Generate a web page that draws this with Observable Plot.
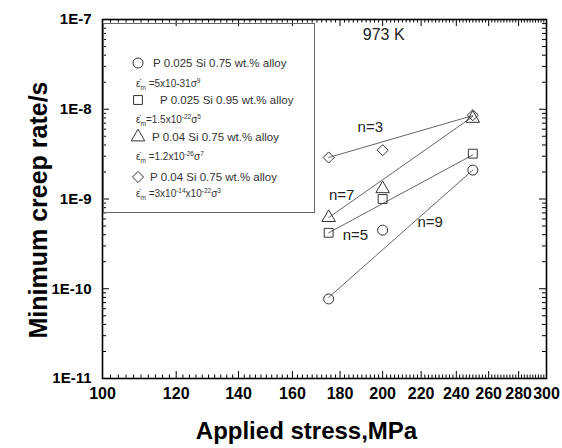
<!DOCTYPE html>
<html><head><meta charset="utf-8">
<script src="https://cdn.jsdelivr.net/npm/d3@7"></script>
<script src="https://cdn.jsdelivr.net/npm/@observablehq/plot@0.6"></script>
<style>
body{margin:0;background:#fff;}
#wrap{position:relative;width:562px;height:448px;font-family:"Liberation Sans",Arial,sans-serif;}
#wrap svg.overlay{position:absolute;left:0;top:0;pointer-events:none;}
</style></head><body><div id="wrap"></div>
<script>
// ---- data ----
const seriesNames = ["P0.025Si0.75", "P0.025Si0.95", "P0.04Si0.75a", "P0.04Si0.75b"];
const stress = [175, 200, 250];
const rateCircle   = [7.7e-11, 4.5e-10, 2.1e-9];
const rateSquare   = [4.2e-10, 1.0e-9, 3.2e-9];
const rateTriangle = [6.2e-10, 1.3e-9, 7.9e-9];
const rateDiamond  = [2.9e-9, 3.5e-9, 8.6e-9];
const fitStress = [175, 250];
const fitCircle   = [8.0e-11, 2.1e-9];   // n=9
const fitSquare   = [4.2e-10, 3.1e-9];   // n=5
const fitTriangle = [6.2e-10, 8.3e-9];   // n=7
const fitDiamond  = [2.9e-9, 8.5e-9];    // n=3
const nLabels = ["n=3", "n=7", "n=5", "n=9"];
const nLabelStress = [194, 180.7, 187, 225];
const nLabelRate = [6.26e-9, 1.09e-9, 3.92e-10, 5.47e-10];
const tempLabel = ["973 K"]; const tempStress = [200.5]; const tempRate = [6.8e-8];
const xTicks = [100, 120, 140, 160, 180, 200, 220, 240, 260, 280, 300];
const yTicks = [1e-11, 1e-10, 1e-9, 1e-8, 1e-7];
const yTickLabels = ["1E-11", "1E-10", "1E-9", "1E-8", "1E-7"];
const xTitle = "Applied stress,MPa";
const yTitle = "Minimum creep rate/s";
const legendLabels = ["P 0.025 Si 0.75 wt.% alloy", "P 0.025 Si 0.95 wt.% alloy", "P 0.04 Si 0.75 wt.% alloy", "P 0.04 Si 0.75 wt.% alloy"];
const legendFormulas = [
  [["ε̇",""],["m","sub"],[" =5x10-31σ",""],["9","sup"]],
  [["ε̇",""],["m","sub"],["=1.5x10",""],["-22","sup"],["σ",""],["5","sup"]],
  [["ε̇",""],["m","sub"],[" =1.2x10",""],["-26","sup"],["σ",""],["7","sup"]],
  [["ε̇",""],["m","sub"],[" =3x10",""],["-14","sup"],["x10",""],["-22","sup"],["σ",""],["3","sup"]]
];
const symbolNames = ["circle", "square", "triangle", "diamond2"];

// ---- tables ----
const rates = [rateCircle, rateSquare, rateTriangle, rateDiamond];
const fitsArr = [fitCircle, fitSquare, fitTriangle, fitDiamond];
const points = seriesNames.flatMap((s, i) => stress.map((x, j) => ({series: s, stress: x, rate: rates[i][j]})));
const fits = seriesNames.flatMap((s, i) => fitStress.map((x, j) => ({series: s, stress: x, rate: fitsArr[i][j]})));
const nAnno = nLabels.map((t, i) => ({t, x: nLabelStress[i], y: nLabelRate[i]}));
const tAnno = tempLabel.map((t, i) => ({t, x: tempStress[i], y: tempRate[i]}));
const xMinor = d3.range(102, 300, 2).filter(v => v % 20 !== 0);
const yMinor = [];
for (let e = -11; e < -7; e++) for (let m = 2; m <= 9; m++) yMinor.push(+(m + "e" + e));

// ---- layout ----
const W = 562, H = 448, mL = 102, mR = 16, mT = 19, mB = 70;
const pw = W - mL - mR, ph = H - mT - mB;
const font = '"Liberation Sans", Arial, sans-serif';

const chart = Plot.plot({
  width: W, height: H,
  marginLeft: mL, marginRight: mR, marginTop: mT, marginBottom: mB,
  style: {fontFamily: font, background: "white", color: "black", overflow: "visible"},
  x: {type: "log", domain: [100, 300]},
  y: {type: "log", domain: [1e-11, 1e-7]},
  symbol: {domain: seriesNames, range: symbolNames},
  marks: [
    Plot.axisX(xTicks, {tickSize: 0, tickPadding: 9, fontSize: 16, fontWeight: "bold", tickFormat: d => String(d), label: null}),
    Plot.axisY(yTicks, {tickSize: 0, tickPadding: 11, fontSize: 15, fontWeight: "bold", tickFormat: d => yTickLabels[yTicks.indexOf(d)], label: null}),
    Plot.ruleX(xTicks, {x: d => d, insetTop: ph - 7, stroke: "black"}),
    Plot.ruleX(xMinor, {x: d => d, insetTop: ph - 3.5, stroke: "black"}),
    Plot.ruleX(xTicks, {x: d => d, insetBottom: ph - 7, stroke: "black"}),
    Plot.ruleX(xMinor, {x: d => d, insetBottom: ph - 3.5, stroke: "black"}),
    Plot.ruleY(yTicks, {y: d => d, insetRight: pw - 7, stroke: "black"}),
    Plot.ruleY(yMinor, {y: d => d, insetRight: pw - 4, stroke: "black"}),
    Plot.ruleY(yTicks, {y: d => d, insetLeft: pw - 7, stroke: "black"}),
    Plot.ruleY(yMinor, {y: d => d, insetLeft: pw - 4, stroke: "black"}),
    Plot.line(fits, {x: "stress", y: "rate", z: "series", stroke: "#555", strokeWidth: 0.9}),
    Plot.dot(points, {x: "stress", y: "rate", symbol: "series", r: 5, stroke: "#333", strokeWidth: 1, fill: "none"}),
    Plot.text(nAnno, {x: "x", y: "y", text: "t", fontSize: 15, fill: "#222"}),
    Plot.text(tAnno, {x: "x", y: "y", text: "t", fontSize: 16, fill: "#222"}),
    Plot.frame({stroke: "black", strokeWidth: 1.6}),
    Plot.text([xTitle], {text: d => d, frameAnchor: "bottom", textAnchor: "middle", lineAnchor: "middle", dy: 53, dx: -18, fontSize: 24, fontWeight: "bold", fill: "black"}),
    Plot.text([yTitle], {text: d => d, frameAnchor: "left", textAnchor: "middle", lineAnchor: "middle", rotate: -90, dx: -64, dy: 11, fontSize: 25, fontWeight: "bold", fill: "black"})
  ]
});
const wrap = document.getElementById("wrap");
wrap.appendChild(chart);

// ---- legend overlay ----
const ov = d3.select(wrap).append("svg").attr("class", "overlay").attr("width", W).attr("height", H)
  .style("font-family", font);
ov.append("rect").attr("x", 103.5).attr("y", 23.5).attr("width", 211).attr("height", 189)
  .attr("fill", "none").attr("stroke", "#666").attr("stroke-width", 1);
const d3sym = {circle: d3.symbolCircle, square: d3.symbolSquare, triangle: d3.symbolTriangle, diamond2: d3.symbolDiamond2};
const symY = [63, 100, 137, 177], textX = [153, 160, 152, 150], textBase = [67, 104, 141, 181], formBase = [87, 123, 160, 197];
symbolNames.forEach((s, i) => {
  ov.append("path").attr("d", d3.symbol(d3sym[s], Math.PI * 25)())
    .attr("transform", `translate(138,${symY[i]})`).attr("fill", "none").attr("stroke", "#333");
  ov.append("text").attr("x", textX[i]).attr("y", textBase[i]).attr("font-size", 11.5).attr("fill", "#333").text(legendLabels[i]);
  const t = ov.append("text").attr("x", 136).attr("y", formBase[i]).attr("font-size", 10).attr("fill", "#333");
  let shift = 0;
  legendFormulas[i].forEach(([str, kind]) => {
    const target = kind === "sub" ? 2.5 : kind === "sup" ? -4 : 0;
    t.append("tspan").attr("dy", target - shift).attr("font-size", kind ? 6.5 : 10).text(str);
    shift = target;
  });
});
</script>
</body></html>
